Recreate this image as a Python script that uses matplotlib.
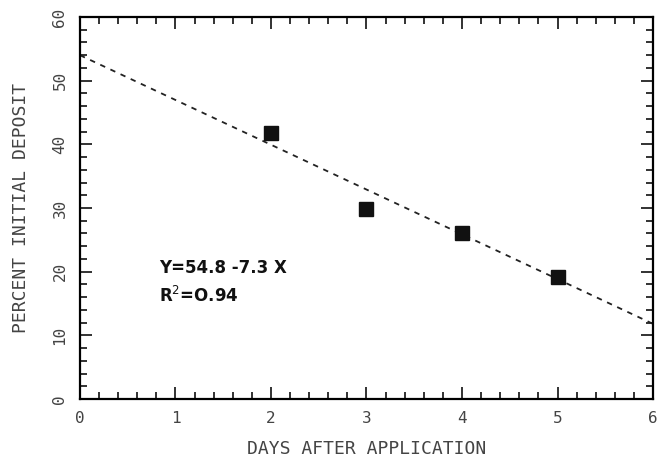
import matplotlib
matplotlib.use("Agg")
import matplotlib.pyplot as plt
from matplotlib.ticker import MultipleLocator

# measured points (days, percent of initial deposit)
days = [2, 3, 4, 5]
percent = [41.8, 29.9, 26.1, 19.2]

# regression line as drawn in the figure (end points)
fit_x = [0, 6]
fit_y = [54.0, 11.8]

eq_text = "Y=54.8 -7.3 X"
r2_text = "R$^2$=O.94"

fig = plt.figure(figsize=(6.6, 4.62), dpi=100)
ax = fig.add_axes([0.1212, 0.1364, 0.8682, 0.8268])

ax.plot(fit_x, fit_y, color="#222222", ls=(0, (3, 3.2)), lw=1.3)
ax.plot(days, percent, "s", color="#111111", ms=9.5)

ax.set_xlim(0, 6)
ax.set_ylim(0, 60)
ax.xaxis.set_major_locator(MultipleLocator(1))
ax.xaxis.set_minor_locator(MultipleLocator(0.2))
ax.yaxis.set_major_locator(MultipleLocator(10))
ax.yaxis.set_minor_locator(MultipleLocator(2))

for s in ax.spines.values():
    s.set_linewidth(1.6)
ax.tick_params(which="both", direction="in", top=True, right=True, width=1.3, color="#222222")
ax.tick_params(which="major", length=8.5)
ax.tick_params(which="minor", length=5)
ax.tick_params(axis="x", pad=9)
ax.tick_params(axis="y", pad=9)

mono = "DejaVu Sans Mono"
for lab in ax.get_xticklabels():
    lab.set_fontfamily(mono)
    lab.set_fontsize(11.5)
    lab.set_color("#444444")
for lab in ax.get_yticklabels():
    lab.set_fontfamily(mono)
    lab.set_fontsize(11.5)
    lab.set_rotation(90)
    lab.set_va("center")
    lab.set_color("#444444")

ax.set_xlabel("DAYS AFTER APPLICATION", family=mono, fontsize=13, color="#444444", labelpad=10)
ax.set_ylabel("PERCENT INITIAL DEPOSIT", family=mono, fontsize=13, color="#444444", labelpad=16)

ax.text(0.83, 20.6, eq_text, fontsize=12, fontweight="bold", family="DejaVu Sans",
        va="center", ha="left", color="#111111")
ax.text(0.83, 16.2, r2_text, fontsize=12, fontweight="bold", family="DejaVu Sans",
        va="center", ha="left", color="#111111")

fig.savefig("out.png", dpi=100)
